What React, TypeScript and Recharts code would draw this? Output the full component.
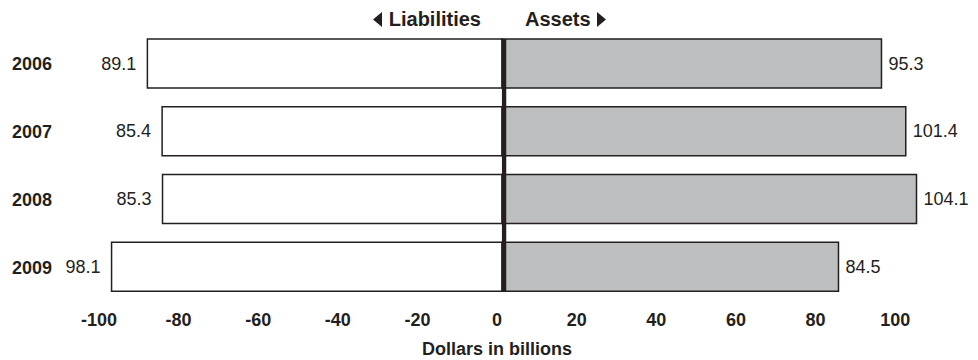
import { BarChart, Bar, XAxis, YAxis, ReferenceLine, LabelList } from "recharts"

const years = ["2006", "2007", "2008", "2009"]
const liabilities = [89.1, 85.4, 85.3, 98.1]
const assets = [95.3, 101.4, 104.1, 84.5]
const xTicks = [-100, -80, -60, -40, -20, 0, 20, 40, 60, 80, 100]

// liabilities go left of zero, assets right
const data = years.map((year, i) => ({
  year,
  liabilities: -liabilities[i],
  assets: assets[i],
}))

const ink = "#231f20"
const font = "'Liberation Sans', Arial, Helvetica, sans-serif"

function LiabilityLabel(props: any) {
  const { x, y, width, height, value } = props
  const edge = Math.min(x, x + width)
  return (
    <text x={edge - 11} y={y + height / 2} textAnchor="end" dominantBaseline="central" fontSize={18} fill={ink}>
      {Math.abs(value).toFixed(1)}
    </text>
  )
}

function AssetLabel(props: any) {
  const { x, y, width, height, value } = props
  const edge = Math.max(x, x + width)
  return (
    <text x={edge + 7} y={y + height / 2} textAnchor="start" dominantBaseline="central" fontSize={18} fill={ink}>
      {Number(value).toFixed(1)}
    </text>
  )
}

function ZeroLine(p: any) {
  const top = Math.min(p.y1, p.y2)
  const bottom = Math.max(p.y1, p.y2)
  return <line x1={p.x1 + 2} x2={p.x2 + 2} y1={top + 9} y2={bottom - 9} stroke={ink} strokeWidth={4.3} />
}

function Arrow({ dir }: { dir: "left" | "right" }) {
  return (
    <svg width={10} height={15} style={{ display: "inline-block", verticalAlign: "-1px" }}>
      <polygon points={dir === "left" ? "9,0 9,15 0,7.5" : "1,0 1,15 10,7.5"} fill={ink} />
    </svg>
  )
}

export default function App() {
  const titleStyle: React.CSSProperties = {
    position: "absolute",
    top: 9,
    fontSize: 20,
    lineHeight: "20px",
    fontWeight: "bold",
    color: ink,
    whiteSpace: "nowrap",
  }
  return (
    <div style={{ position: "absolute", left: 0, top: 0, width: 978, height: 360, background: "#fff", fontFamily: font }}>
      <div style={{ ...titleStyle, right: 978 - 481 }}>
        <Arrow dir="left" /> Liabilities
      </div>
      <div style={{ ...titleStyle, left: 525 }}>
        Assets <Arrow dir="right" />
      </div>
      <BarChart
        width={978}
        height={360}
        data={data}
        layout="vertical"
        stackOffset="sign"
        barSize={49}
        margin={{ top: 30, right: 38, bottom: 0, left: 0 }}
        style={{ fontFamily: font }}
      >
        <XAxis
          type="number"
          domain={[-100, 110]}
          ticks={xTicks}
          height={59}
          axisLine={false}
          tickLine={false}
          tickSize={0}
          tickMargin={12}
          tick={{ fontSize: 18, fontWeight: "bold", fill: ink, dx: -5 }}
          label={{
            value: "Dollars in billions",
            position: "insideBottom",
            offset: 5,
            dx: -25,
            fontSize: 18,
            fontWeight: "bold",
            fill: ink,
          }}
        />
        <YAxis
          type="category"
          dataKey="year"
          width={104}
          axisLine={false}
          tickLine={false}
          tickSize={0}
          tickMargin={52}
          tick={{ fontSize: 18, fontWeight: "bold", fill: ink }}
        />
        <Bar dataKey="liabilities" stackId="a" fill="#ffffff" stroke={ink} strokeWidth={1.5} isAnimationActive={false}>
          <LabelList dataKey="liabilities" content={LiabilityLabel} />
        </Bar>
        <Bar dataKey="assets" stackId="a" fill="#bcbec0" stroke={ink} strokeWidth={1.5} isAnimationActive={false}>
          <LabelList dataKey="assets" content={AssetLabel} />
        </Bar>
        <ReferenceLine x={0} shape={ZeroLine} />
      </BarChart>
    </div>
  )
}
